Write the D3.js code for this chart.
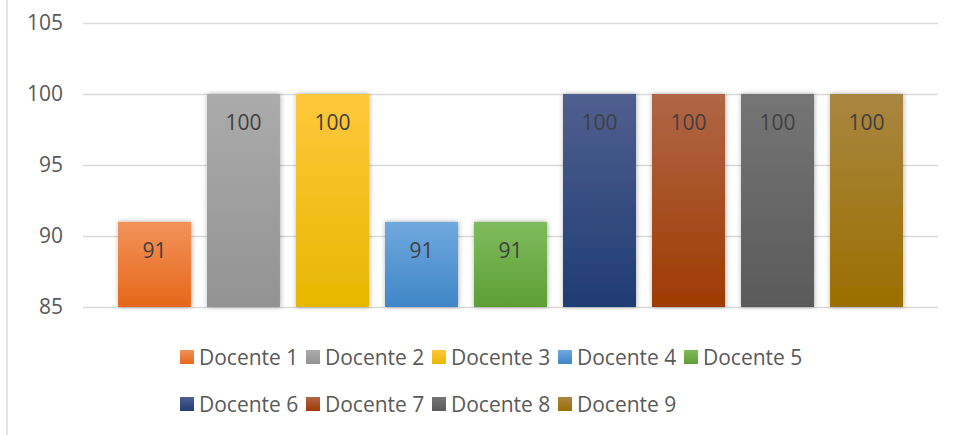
<!doctype html>
<html>
<head>
  <meta charset="utf-8" />
  <title>Docentes</title>
  <script src="https://d3js.org/d3.v7.min.js"></script>
  <style>
    body { margin: 0; background: #fff; }
    svg { display: block; font-family: "Open Sans", "Noto Sans", sans-serif; }
  </style>
</head>
<body>
  <svg></svg>
  <script>
    var docentes = ["Docente 1", "Docente 2", "Docente 3", "Docente 4", "Docente 5",
                    "Docente 6", "Docente 7", "Docente 8", "Docente 9"],
      valores = [91, 100, 100, 91, 91, 100, 100, 100, 100],
      ticks = [85, 90, 95, 100, 105],
      // top / bottom colour of each bar's gradient
      coloresTop = ["#f2925a", "#ababab", "#ffc83c", "#70a8de", "#7fbb5c",
                    "#4f5f8e", "#b06646", "#757575", "#a98641"],
      coloresBot = ["#e6681a", "#939393", "#e6b700", "#3f86c8", "#5e9e36",
                    "#1f3c74", "#9e3b02", "#5a5a5a", "#9b6f00"];

    var width = 954, height = 435,
      plotLeft = 83, plotRight = 938, plotTop = 23, plotBottom = 307;

    var svg = d3.select("svg").attr("width", width).attr("height", height);

    var x = d3.scaleBand()
      .domain(docentes)
      .range([plotLeft, plotRight])
      .paddingInner(0.18)
      .paddingOuter(0.393);

    var y = d3.scaleLinear()
      .domain([85, 105])
      .range([plotBottom, plotTop]);

    var defs = svg.append("defs");

    defs.append("filter")
      .attr("id", "sombra")
      .attr("x", "-20%").attr("y", "-20%")
      .attr("width", "140%").attr("height", "140%")
      .append("feDropShadow")
      .attr("dx", 0.5).attr("dy", 0)
      .attr("stdDeviation", 2.8)
      .attr("flood-color", "#000")
      .attr("flood-opacity", 0.32);

    docentes.forEach(function(d, i) {
      var g = defs.append("linearGradient")
        .attr("id", "grad" + i)
        .attr("x1", 0).attr("y1", 0).attr("x2", 0).attr("y2", 1);
      g.append("stop").attr("offset", "0%").attr("stop-color", coloresTop[i]);
      g.append("stop").attr("offset", "100%").attr("stop-color", coloresBot[i]);
    });

    // left frame line
    svg.append("line")
      .attr("x1", 7).attr("x2", 7)
      .attr("y1", 0).attr("y2", height)
      .attr("stroke", "#d9d9d9")
      .attr("stroke-width", 1.5);

    // grid + y labels
    var yAxis = svg.append("g")
      .attr("transform", "translate(" + plotLeft + ",0)")
      .call(d3.axisLeft(y).tickValues(ticks).tickSize(-(plotRight - plotLeft)).tickPadding(20));
    yAxis.select(".domain").remove();
    yAxis.selectAll(".tick line")
      .attr("stroke", "#d9d9d9")
      .attr("stroke-width", 1.3);
    yAxis.selectAll(".tick text")
      .attr("fill", "#595959")
      .style("font-size", "21px")
      .style("font-family", "'Open Sans', 'Noto Sans', sans-serif");

    // bars
    svg.append("g")
      .selectAll("rect")
      .data(valores)
      .join("rect")
      .attr("x", function(d, i) { return x(docentes[i]); })
      .attr("y", function(d) { return y(d); })
      .attr("width", x.bandwidth())
      .attr("height", function(d) { return y(85) - y(d); })
      .attr("fill", function(d, i) { return "url(#grad" + i + ")"; })
      .attr("filter", "url(#sombra)");

    // value labels
    svg.append("g")
      .selectAll("text")
      .data(valores)
      .join("text")
      .attr("x", function(d, i) { return x(docentes[i]) + x.bandwidth() / 2; })
      .attr("y", function(d) { return y(d) + 28; })
      .attr("text-anchor", "middle")
      .attr("dominant-baseline", "central")
      .attr("fill", "#404040")
      .style("font-size", "21px")
      .text(function(d) { return d; });

    // legend, two rows
    var porFila = 5, paso = 126, legX = 180, filas = [357, 404];
    var leg = svg.append("g")
      .selectAll("g")
      .data(docentes)
      .join("g")
      .attr("transform", function(d, i) {
        return "translate(" + (legX + (i % porFila) * paso) + "," + filas[Math.floor(i / porFila)] + ")";
      });
    leg.append("rect")
      .attr("x", 0).attr("y", -7)
      .attr("width", 14).attr("height", 14)
      .attr("fill", function(d, i) { return "url(#grad" + i + ")"; });
    leg.append("text")
      .attr("x", 19)
      .attr("y", 0)
      .attr("dominant-baseline", "central")
      .attr("fill", "#595959")
      .style("font-size", "21px")
      .text(function(d) { return d; });
  </script>
</body>
</html>
